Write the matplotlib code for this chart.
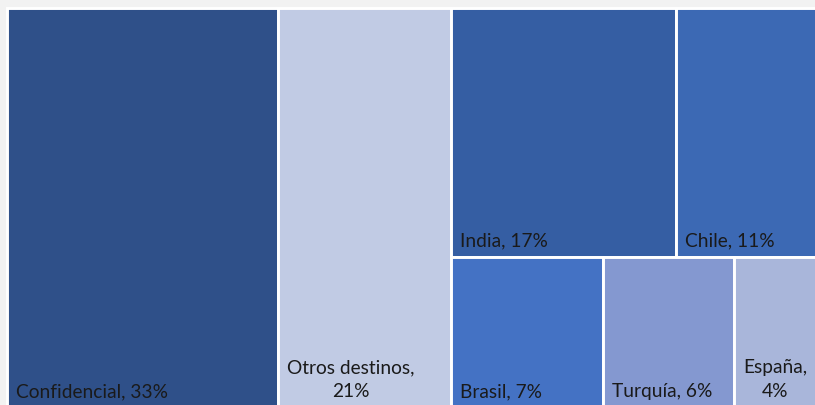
import matplotlib
matplotlib.use("Agg")
import matplotlib.pyplot as plt
from matplotlib.patches import Rectangle

# ---- data ----
categories = ["Confidencial", "Otros destinos", "India", "Chile", "Brasil", "Turquía", "España"]
shares = [33, 21, 17, 11, 7, 6, 4]
labels = ["Confidencial, 33%", "Otros destinos,\n21%", "India, 17%", "Chile, 11%",
          "Brasil, 7%", "Turquía, 6%", "España,\n4%"]
colors = ["#2f5089", "#c1cbe4", "#355ea3", "#3c69b4", "#4472c4", "#8498d0", "#a9b6da"]

# layout structure: two full-height columns, then a block with two rows
full_cols = [0, 1]
block_rows = [[2, 3], [4, 5, 6]]

total = sum(shares)
rects = {}
x = 0.0
for i in full_cols:
    rects[i] = (x, 0.0, shares[i], 1.0)
    x += shares[i]
block_w = total - x
block_total = sum(shares[i] for r in block_rows for i in r)
ytop = 1.0
for row in block_rows:
    row_sum = sum(shares[i] for i in row)
    h = row_sum / block_total
    xx = x
    for i in row:
        w = shares[i] / row_sum * block_w
        rects[i] = (xx, ytop - h, w, h)
        xx += w
    ytop -= h

fig = plt.figure(figsize=(8.15, 4.05), dpi=100, facecolor="#f2f2f2")
ax = fig.add_axes([7 / 815, -3 / 405, 814 / 815, 400 / 405])
ax.set_xlim(0, total)
ax.set_ylim(0, 1)
ax.axis("off")
ax.patch.set_facecolor("white")

for i in range(len(categories)):
    x0, y0, w, h = rects[i]
    ax.add_patch(Rectangle((x0, y0), w, h, facecolor=colors[i], edgecolor="white",
                           linewidth=2.1, clip_on=False))
    ax.annotate(labels[i], xy=(x0, y0), xytext=(9, 8), textcoords="offset pixels",
                ha="left", va="bottom", multialignment="center",
                fontsize=13.8, family=["Lato", "DejaVu Sans"], color="#1a1a1a",
                linespacing=1.5)

fig.savefig("out.png", dpi=100, facecolor=fig.get_facecolor())
